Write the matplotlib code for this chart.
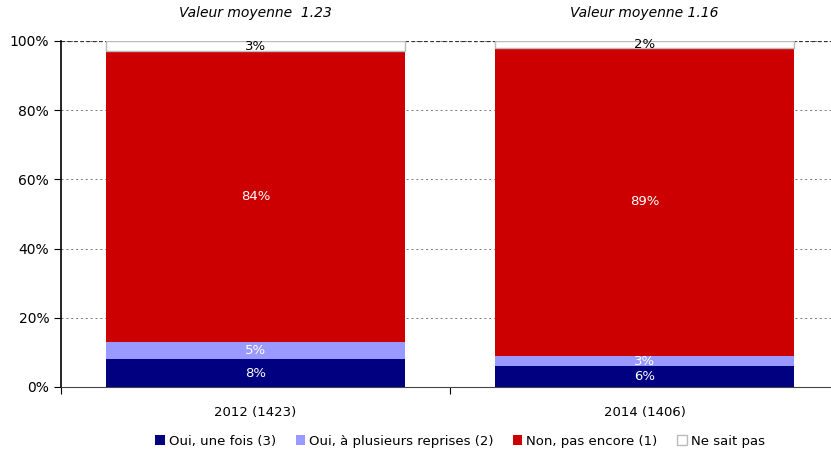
import matplotlib
matplotlib.use("Agg")
import matplotlib.pyplot as plt
import numpy as np

categories = ["2012 (1423)", "2014 (1406)"]
titles = ["Valeur moyenne  1.23", "Valeur moyenne 1.16"]
series_names = ["Oui, une fois (3)", "Oui, à plusieurs reprises (2)", "Non, pas encore (1)", "Ne sait pas"]
values = {
    "Oui, une fois (3)": [8, 6],
    "Oui, à plusieurs reprises (2)": [5, 3],
    "Non, pas encore (1)": [84, 89],
    "Ne sait pas": [3, 2],
}
colors = ["#000080", "#9999FF", "#CC0000", "#FFFFFF"]
text_colors = ["white", "white", "white", "black"]

plt.rcParams['font.family'] = ['DejaVu Sans']
fig = plt.figure(figsize=(8.31, 4.54), dpi=100)
ax = fig.add_axes([61/831, 1-387/454, (831-61)/831, 346/454])

x = np.arange(len(categories))
width = 0.771
bottom = np.zeros(len(categories))
for name, c, tc in zip(series_names, colors, text_colors):
    v = np.array(values[name], dtype=float)
    ec = "#BBBBBB" if c == "#FFFFFF" else c
    ax.bar(x, v, width, bottom=bottom, color=c, edgecolor=ec, linewidth=1 if c == "#FFFFFF" else 0,
           label=name, zorder=3)
    for xi, vi, bi in zip(x, v, bottom):
        ax.text(xi, bi + vi / 2, f"{int(vi)}%", ha="center", va="center", color=tc, fontsize=9.5, zorder=4)
    bottom += v

ax.set_xlim(-0.5, 0.5 + (831 - 450) / 389)
ax.set_ylim(0, 100)
ax.set_yticks([0, 20, 40, 60, 80, 100])
ax.set_yticklabels([f"{t}%" for t in [0, 20, 40, 60, 80, 100]], fontsize=10)
ax.set_xticks([-0.5, 0.5])
ax.set_xticklabels([])
ax.tick_params(axis='x', direction='out', length=5)
ax.tick_params(axis='y', direction='out', length=5)
for xi, cat in zip(x, categories):
    ax.text(xi, -5.5, cat, ha="center", va="top", fontsize=9.5, transform=ax.transData)
for xi, t in zip(x, titles):
    ax.text(xi, 108, t, ha="center", va="center", fontsize=10, style="italic", clip_on=False)

ax.yaxis.grid(True, linestyle=(0, (2, 3)), color="#777777", linewidth=0.7, zorder=0)
ax.axhline(100, color="#333333", linestyle=(0, (3, 2)), linewidth=0.9, zorder=1)
ax.set_axisbelow(True)
for s in ["top", "right"]:
    ax.spines[s].set_visible(False)
ax.spines["left"].set_linewidth(1.2)
ax.spines["bottom"].set_color("#444444")

handles, labels = ax.get_legend_handles_labels()
leg = fig.legend(handles, labels, loc="center", bbox_to_anchor=(460/831, 1-441/454), ncol=4,
                 frameon=False, fontsize=9.5, handlelength=0.7, handleheight=0.7,
                 handletextpad=0.3, columnspacing=1.5)

fig.savefig("out.png", dpi=100)
